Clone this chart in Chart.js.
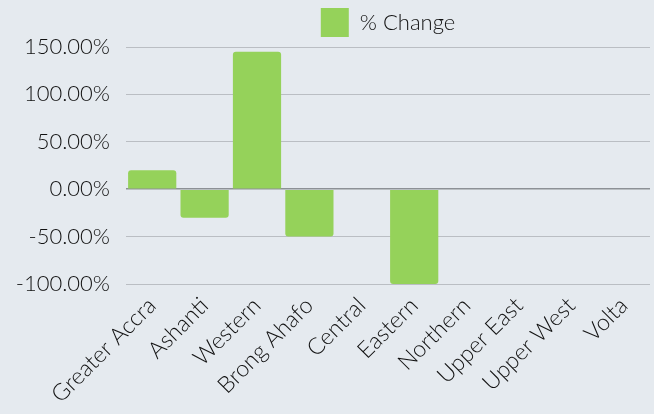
<!DOCTYPE html>
<html><head><meta charset="utf-8">
<script src="https://cdn.jsdelivr.net/npm/chart.js@4/dist/chart.umd.min.js"></script>
<style>
html,body{margin:0;padding:0;background:#e5eaef;}
#wrap{width:654px;height:414px;position:relative;}
</style></head>
<body><div id="wrap"><canvas id="c"></canvas></div>
<script>
const categories = ["Greater Accra","Ashanti","Western","Brong Ahafo","Central","Eastern","Northern","Upper East","Upper West","Volta"];
const pctChange = [20, -30, 145, -50, 0, -100, 0, 0, 0, 0];
const seriesLabel = "% Change";

const FONT = "Lato, 'Open Sans', sans-serif";
new Chart(document.getElementById('c'), {
  type: 'bar',
  data: {
    labels: categories,
    datasets: [{
      label: seriesLabel,
      data: pctChange,
      backgroundColor: '#95d25a',
      borderWidth: 0,
      borderRadius: 3,
      borderSkipped: 'start',
      barPercentage: 0.92,
      categoryPercentage: 1.0
    }]
  },
  options: {
    responsive: true,
    maintainAspectRatio: false,
    animation: false,
    layout: { padding: { left: 0, right: 4, top: 0, bottom: 0 } },
    plugins: {
      tooltip: { enabled: false },
      legend: {
        position: 'top',
        fullSize: false,
        labels: {
          color: '#111',
          font: { family: FONT, size: 22, weight: '300' },
          boxWidth: 28,
          boxHeight: 29,
          padding: 8
        }
      }
    },
    scales: {
      x: {
        grid: { display: false, drawTicks: false },
        border: { display: false },
        ticks: {
          color: '#111',
          font: { family: FONT, size: 23, weight: '300' },
          minRotation: 45,
          maxRotation: 45,
          autoSkip: false,
          padding: 8
        },
        afterFit: (s) => { s.height = 130; }
      },
      y: {
        min: -100,
        max: 150,
        grid: {
          color: (ctx) => ctx.tick && ctx.tick.value === 0 ? '#8d9196' : '#babec3',
          lineWidth: (ctx) => ctx.tick && ctx.tick.value === 0 ? 1.5 : 1,
          drawTicks: false
        },
        border: { display: false },
        ticks: {
          stepSize: 50,
          color: '#111',
          font: { family: FONT, size: 22, weight: '300' },
          padding: 16,
          callback: (v) => v.toFixed(2) + '%'
        },
        afterFit: (s) => { s.width = 126; }
      }
    }
  }
});
</script></body></html>
